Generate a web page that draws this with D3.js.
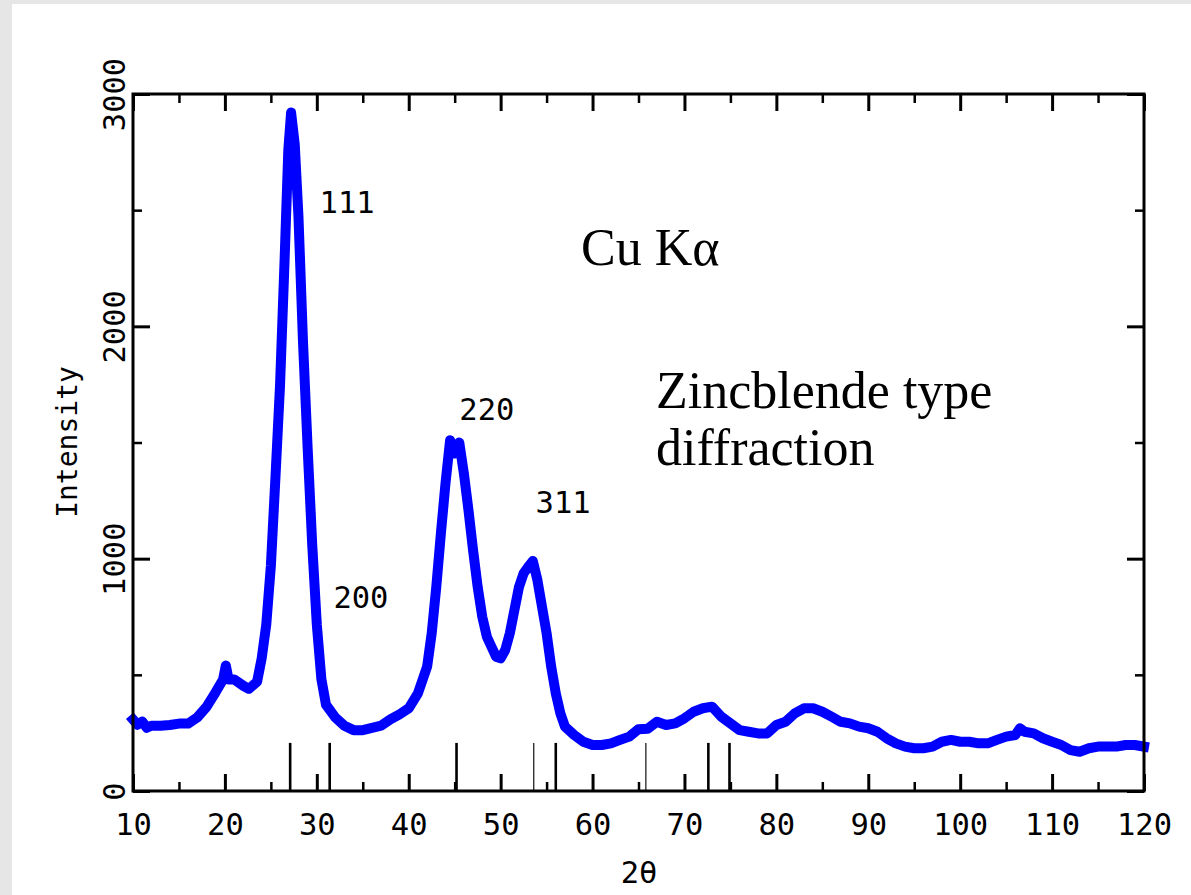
<!DOCTYPE html>
<html>
<head>
<meta charset="utf-8">
<script src="https://cdn.jsdelivr.net/npm/d3@7/dist/d3.min.js"></script>
<style>
  html, body { margin: 0; padding: 0; background: #e6e6e6; }
  #panel { position: absolute; left: 12px; top: 4px; width: 1179px; height: 891px; background: #fff; }
  svg { position: absolute; left: 0; top: 0; }
  .mono { font-family: "DejaVu Sans Mono", monospace; font-size: 30.5px; fill: #000; }
  .ytitle { font-family: "DejaVu Sans Mono", monospace; font-size: 28px; fill: #000; }
  .serif { font-family: "Liberation Serif", "Times New Roman", serif; font-size: 52px; fill: #000; }
</style>
</head>
<body>
<div id="panel"></div>
<svg id="chart" width="1191" height="895"></svg>
<script>
// diffraction pattern (2theta in degrees, counts)
var twoTheta = [10, 10.5, 11, 11.5, 12, 13, 14, 15, 16, 17, 18, 19, 19.8, 20.1, 20.4, 21, 22, 22.6, 23, 23.5,
  24, 24.5, 25, 25.5, 26, 26.5, 26.9, 27.2, 27.6, 28, 28.5, 29, 29.5, 30, 30.5, 31, 32, 33, 34,
  35, 36, 37, 38, 39, 40, 41, 42, 42.5, 43, 43.5, 44, 44.5, 45, 45.5, 46, 46.5, 47, 47.5, 48,
  48.5, 49, 49.5, 50, 50.5, 51, 51.5, 52, 52.5, 53, 53.5, 54, 54.5, 55, 55.5, 56, 56.5, 57, 58,
  59, 60, 61, 62, 63, 64, 65, 66, 67, 68, 69, 70, 71, 72, 73, 74, 75, 76, 77, 78, 79, 80, 81,
  82, 83, 84, 85, 86, 87, 88, 89, 90, 91, 92, 93, 94, 95, 96, 97, 98, 99, 100, 101, 102, 103,
  104, 105, 106, 106.5, 107, 108, 109, 110, 111, 112, 113, 114, 115, 116, 117, 118, 119, 120];
var intensity = [308, 285, 299, 272, 281, 281, 284, 290, 290, 317, 362, 426, 480, 540, 480, 480, 453, 440, 453, 470,
  571, 716, 969, 1350, 1749, 2292, 2760, 2920, 2782, 2475, 1930, 1477, 1060, 716, 480, 371, 317, 281, 262,
  262, 272, 281, 308, 330, 356, 420, 535, 679, 879, 1109, 1324, 1510, 1453, 1500, 1367, 1209, 1037, 879, 750,
  664, 621, 578, 571, 607, 679, 779, 879, 937, 965, 990, 908, 793, 679, 535, 420, 334, 277, 241,
  212, 198, 198, 205, 220, 234, 266, 268, 298, 284, 291, 313, 341, 356, 363, 320, 291, 262, 255, 248, 248, 284, 298,
  334, 356, 356, 341, 320, 298, 291, 277, 270, 255, 227, 205, 191, 184, 184, 191, 212, 220, 212, 212, 205, 205,
  220, 234, 241, 270, 255, 248, 227, 212, 198, 176, 169, 184, 191, 191, 191, 198, 198, 191];

// reference line positions (zincblende reflections)
var stickStrong = [27.1, 31.4, 45.2, 56.0, 72.6, 74.9];
var stickWeak = [53.6, 65.8];
var stickHeight = 207;

// peak labels
var peakNames = ["111", "200", "220", "311"];
var peakX = [33.3, 34.8, 48.5, 56.8];
var peakY = [2488, 788, 1597, 1197];

var xMajor = [10, 20, 30, 40, 50, 60, 70, 80, 90, 100, 110, 120];
var xMinor = [15, 25, 35, 45, 55, 65, 75, 85, 95, 105, 115];
var yMajor = [0, 1000, 2000, 3000];
var yMinor = [500, 1500, 2500];

var margin = {left: 133, top: 94, right: 1144, bottom: 791};
var svg = d3.select("#chart");

var x = d3.scaleLinear().domain([10, 120]).range([margin.left, margin.right]);
var y = d3.scaleLinear().domain([0, 3000]).range([margin.bottom, margin.top]);

var data = twoTheta.map(function (t, i) { return [t, intensity[i]]; });

// sticks
svg.append("g").selectAll("line").data(stickStrong).enter().append("line")
  .attr("x1", function (d) { return x(d); }).attr("x2", function (d) { return x(d); })
  .attr("y1", y(0)).attr("y2", y(stickHeight))
  .attr("stroke", "#000").attr("stroke-width", 2.6);
svg.append("g").selectAll("line").data(stickWeak).enter().append("line")
  .attr("x1", function (d) { return x(d); }).attr("x2", function (d) { return x(d); })
  .attr("y1", y(0)).attr("y2", y(stickHeight))
  .attr("stroke", "#222").attr("stroke-width", 1.3);

// pattern
var line = d3.line()
  .x(function (d) { return x(d[0]); })
  .y(function (d) { return y(d[1]); });

svg.append("path")
  .datum(data)
  .attr("d", line)
  .attr("fill", "none")
  .attr("stroke", "#0000ff")
  .attr("stroke-width", 10)
  .attr("stroke-linejoin", "round")
  .attr("stroke-linecap", "square");

// axes: ticks pointing inward on all four sides
function styleAxis(g, w) {
  g.select(".domain").remove();
  g.selectAll(".tick line").attr("stroke", "#000").attr("stroke-width", w);
  g.selectAll("text").attr("class", "mono").attr("font-family", null).attr("font-size", null);
}

var bottom = svg.append("g").attr("transform", "translate(0," + margin.bottom + ")")
  .call(d3.axisBottom(x).tickValues(xMajor).tickSizeInner(-17).tickSizeOuter(0).tickPadding(22).tickFormat(d3.format("d")));
styleAxis(bottom, 3);
svg.append("g").attr("transform", "translate(0," + margin.bottom + ")")
  .call(d3.axisBottom(x).tickValues(xMinor).tickSizeInner(-9).tickSizeOuter(0).tickFormat(""))
  .call(styleAxis, 2.5);
svg.append("g").attr("transform", "translate(0," + margin.top + ")")
  .call(d3.axisTop(x).tickValues(xMajor).tickSizeInner(-17).tickSizeOuter(0).tickFormat(""))
  .call(styleAxis, 3);
svg.append("g").attr("transform", "translate(0," + margin.top + ")")
  .call(d3.axisTop(x).tickValues(xMinor).tickSizeInner(-9).tickSizeOuter(0).tickFormat(""))
  .call(styleAxis, 2.5);

var left = svg.append("g").attr("transform", "translate(" + margin.left + ",0)")
  .call(d3.axisLeft(y).tickValues(yMajor).tickSizeInner(-17).tickSizeOuter(0).tickFormat(d3.format("d")));
styleAxis(left, 3);
left.selectAll(".tick text")
  .attr("transform", "rotate(-90)")
  .attr("x", 0).attr("y", -8).attr("dy", 0)
  .attr("text-anchor", "middle");
svg.append("g").attr("transform", "translate(" + margin.left + ",0)")
  .call(d3.axisLeft(y).tickValues(yMinor).tickSizeInner(-9).tickSizeOuter(0).tickFormat(""))
  .call(styleAxis, 2.5);
svg.append("g").attr("transform", "translate(" + margin.right + ",0)")
  .call(d3.axisRight(y).tickValues(yMajor).tickSizeInner(-17).tickSizeOuter(0).tickFormat(""))
  .call(styleAxis, 3);
svg.append("g").attr("transform", "translate(" + margin.right + ",0)")
  .call(d3.axisRight(y).tickValues(yMinor).tickSizeInner(-9).tickSizeOuter(0).tickFormat(""))
  .call(styleAxis, 2.5);

// frame
svg.append("rect")
  .attr("x", margin.left).attr("y", margin.top)
  .attr("width", margin.right - margin.left).attr("height", margin.bottom - margin.top)
  .attr("fill", "none").attr("stroke", "#000").attr("stroke-width", 3);

// axis titles
svg.append("text").attr("class", "mono")
  .attr("x", 639).attr("y", 883)
  .attr("text-anchor", "middle").text("2θ");
svg.append("text").attr("class", "ytitle")
  .attr("transform", "translate(77,442) rotate(-90)")
  .attr("text-anchor", "middle").text("Intensity");

// peak labels
svg.append("g").selectAll("text").data(peakNames).enter().append("text")
  .attr("class", "mono")
  .attr("x", function (d, i) { return x(peakX[i]); })
  .attr("y", function (d, i) { return y(peakY[i]); })
  .attr("text-anchor", "middle")
  .text(function (d) { return d; });

// annotations
svg.append("text").attr("class", "serif").attr("x", 581).attr("y", 265).text("Cu Kα");
svg.append("text").attr("class", "serif").attr("x", 656).attr("y", 408).text("Zincblende type");
svg.append("text").attr("class", "serif").attr("x", 656).attr("y", 465).text("diffraction");
</script>
</body>
</html>
